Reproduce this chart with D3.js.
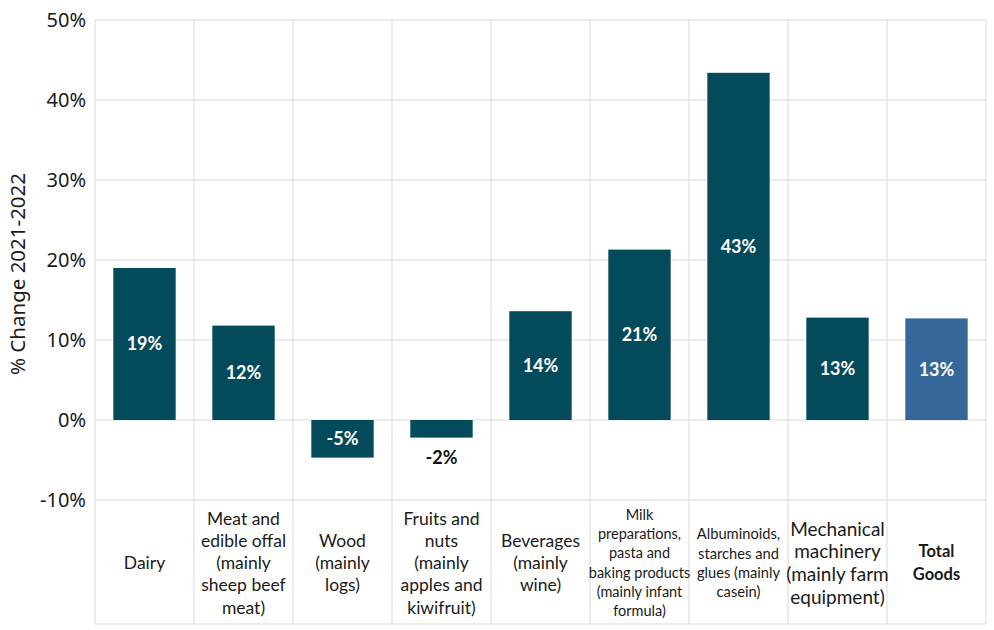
<!DOCTYPE html>
<html>
<head>
<meta charset="utf-8">
<script src="https://cdn.jsdelivr.net/npm/d3@7"></script>
<style>
    body { margin: 0; background: #fff; }
    svg { display: block; }
</style>
</head>
<body>
<div class="chart"></div>
<script>
// chart data
const categories = [
    'Dairy',
    'Meat and edible offal (mainly sheep beef meat)',
    'Wood (mainly logs)',
    'Fruits and nuts (mainly apples and kiwifruit)',
    'Beverages (mainly wine)',
    'Milk preparations, pasta and baking products (mainly infant formula)',
    'Albuminoids, starches and glues (mainly casein)',
    'Mechanical machinery (mainly farm equipment)',
    'Total Goods'
];
// how each category label wraps in its cell
const labelLines = [
    ['Dairy'],
    ['Meat and', 'edible offal', '(mainly', 'sheep beef', 'meat)'],
    ['Wood', '(mainly', 'logs)'],
    ['Fruits and', 'nuts', '(mainly', 'apples and', 'kiwifruit)'],
    ['Beverages', '(mainly', 'wine)'],
    ['Milk', 'preparations,', 'pasta and', 'baking products', '(mainly infant', 'formula)'],
    ['Albuminoids,', 'starches and', 'glues (mainly', 'casein)'],
    ['Mechanical', 'machinery', '(mainly farm', 'equipment)'],
    ['Total', 'Goods']
];
const changes = [19.0, 11.8, -4.7, -2.2, 13.6, 21.3, 43.4, 12.8, 12.7];
const valueLabels = ['19%', '12%', '-5%', '-2%', '14%', '21%', '43%', '13%', '13%'];
const yTicks = [-10, 0, 10, 20, 30, 40, 50];

const width = 994;
const height = 630;
const plotLeft = 95;
const plotRight = 986;
const tableBottom = 624;

const barColor = '#034a5b';
const totalColor = '#35679a';
const gridColor = '#d9d9d9';

// smaller type for the crowded labels
const labelSize = [17.5, 17.5, 17.5, 17.5, 17.5, 14.5, 14.7, 19, 16.5];
const labelLead = [22.3, 22.3, 22.3, 22.3, 22.3, 19.2, 19.2, 22.7, 22.6];

let svg = d3.select('.chart')
    .append('svg')
    .attr('width', width)
    .attr('height', height);

let x = d3.scaleBand()
    .domain(categories)
    .range([plotLeft, plotRight])
    .paddingInner(0.37)
    .paddingOuter(0.185);

let y = d3.scaleLinear()
    .domain([-10, 50])
    .range([500, 20]);

// horizontal grid
svg.append('g')
    .selectAll('line')
    .data(yTicks)
    .join('line')
    .attr('x1', plotLeft)
    .attr('x2', plotRight)
    .attr('y1', d => y(d))
    .attr('y2', d => y(d))
    .attr('stroke', gridColor)
    .attr('stroke-width', 1);

// bottom edge of the label table
svg.append('line')
    .attr('x1', plotLeft)
    .attr('x2', plotRight)
    .attr('y1', tableBottom)
    .attr('y2', tableBottom)
    .attr('stroke', gridColor);

// vertical cell borders
let step = x.step();
let edges = d3.range(categories.length + 1).map(i => plotLeft + i * step);
svg.append('g')
    .selectAll('line')
    .data(edges)
    .join('line')
    .attr('x1', d => d)
    .attr('x2', d => d)
    .attr('y1', y(50))
    .attr('y2', tableBottom)
    .attr('stroke', gridColor);

// y axis labels
let yAxis = d3.axisLeft(y)
    .tickValues(yTicks)
    .tickSize(0)
    .tickPadding(9)
    .tickFormat(d => d + '%');

let yAxisG = svg.append('g')
    .attr('transform', 'translate(' + plotLeft + ',0)')
    .call(yAxis);
yAxisG.select('.domain').remove();
yAxisG.selectAll('text')
    .attr('fill', '#1a1a1a')
    .style('font-family', '"Noto Sans", sans-serif')
    .style('font-size', '20px');

svg.append('text')
    .attr('transform', 'translate(25,274) rotate(-90)')
    .attr('text-anchor', 'middle')
    .attr('fill', '#1a1a1a')
    .style('font-family', '"Noto Sans", sans-serif')
    .style('font-size', '20.5px')
    .text('% Change 2021-2022');

// bars
let lastIndex = categories.length - 1;
svg.append('g')
    .selectAll('rect')
    .data(changes)
    .join('rect')
    .attr('x', (d, i) => x(categories[i]))
    .attr('width', x.bandwidth())
    .attr('y', d => y(Math.max(0, d)))
    .attr('height', d => Math.abs(y(d) - y(0)))
    .attr('fill', (d, i) => i === lastIndex ? totalColor : barColor);

// value labels: inside the bar, or under it when the bar is too short
let isShort = d => Math.abs(y(d) - y(0)) < 24;
svg.append('g')
    .selectAll('text')
    .data(changes)
    .join('text')
    .attr('x', (d, i) => x(categories[i]) + x.bandwidth() / 2)
    .attr('y', d => isShort(d) ? y(d) + 20 : (y(d) + y(0)) / 2)
    .attr('dy', '0.35em')
    .attr('text-anchor', 'middle')
    .attr('fill', d => isShort(d) ? '#111' : '#fff')
    .style('font-family', 'Lato, sans-serif')
    .style('font-weight', 'bold')
    .style('font-size', '18px')
    .text((d, i) => valueLabels[i]);

// category labels in the table row
let cellMid = (y(-10) + tableBottom) / 2 + 1;
let labels = svg.append('g')
    .selectAll('text')
    .data(categories)
    .join('text')
    .attr('text-anchor', 'middle')
    .attr('fill', '#1a1a1a')
    .style('font-family', 'Lato, sans-serif')
    .style('font-size', (d, i) => labelSize[i] + 'px')
    .style('font-weight', (d, i) => i === lastIndex ? 'bold' : 'normal');

labels.each(function(d, i) {
    let lines = labelLines[i];
    let lead = labelLead[i];
    let cx = x(d) + x.bandwidth() / 2;
    let top = cellMid - (lines.length - 1) * lead / 2;
    d3.select(this)
        .selectAll('tspan')
        .data(lines)
        .join('tspan')
        .attr('x', cx)
        .attr('y', (line, j) => top + j * lead)
        .attr('dy', '0.35em')
        .text(line => line);
});
</script>
</body>
</html>
